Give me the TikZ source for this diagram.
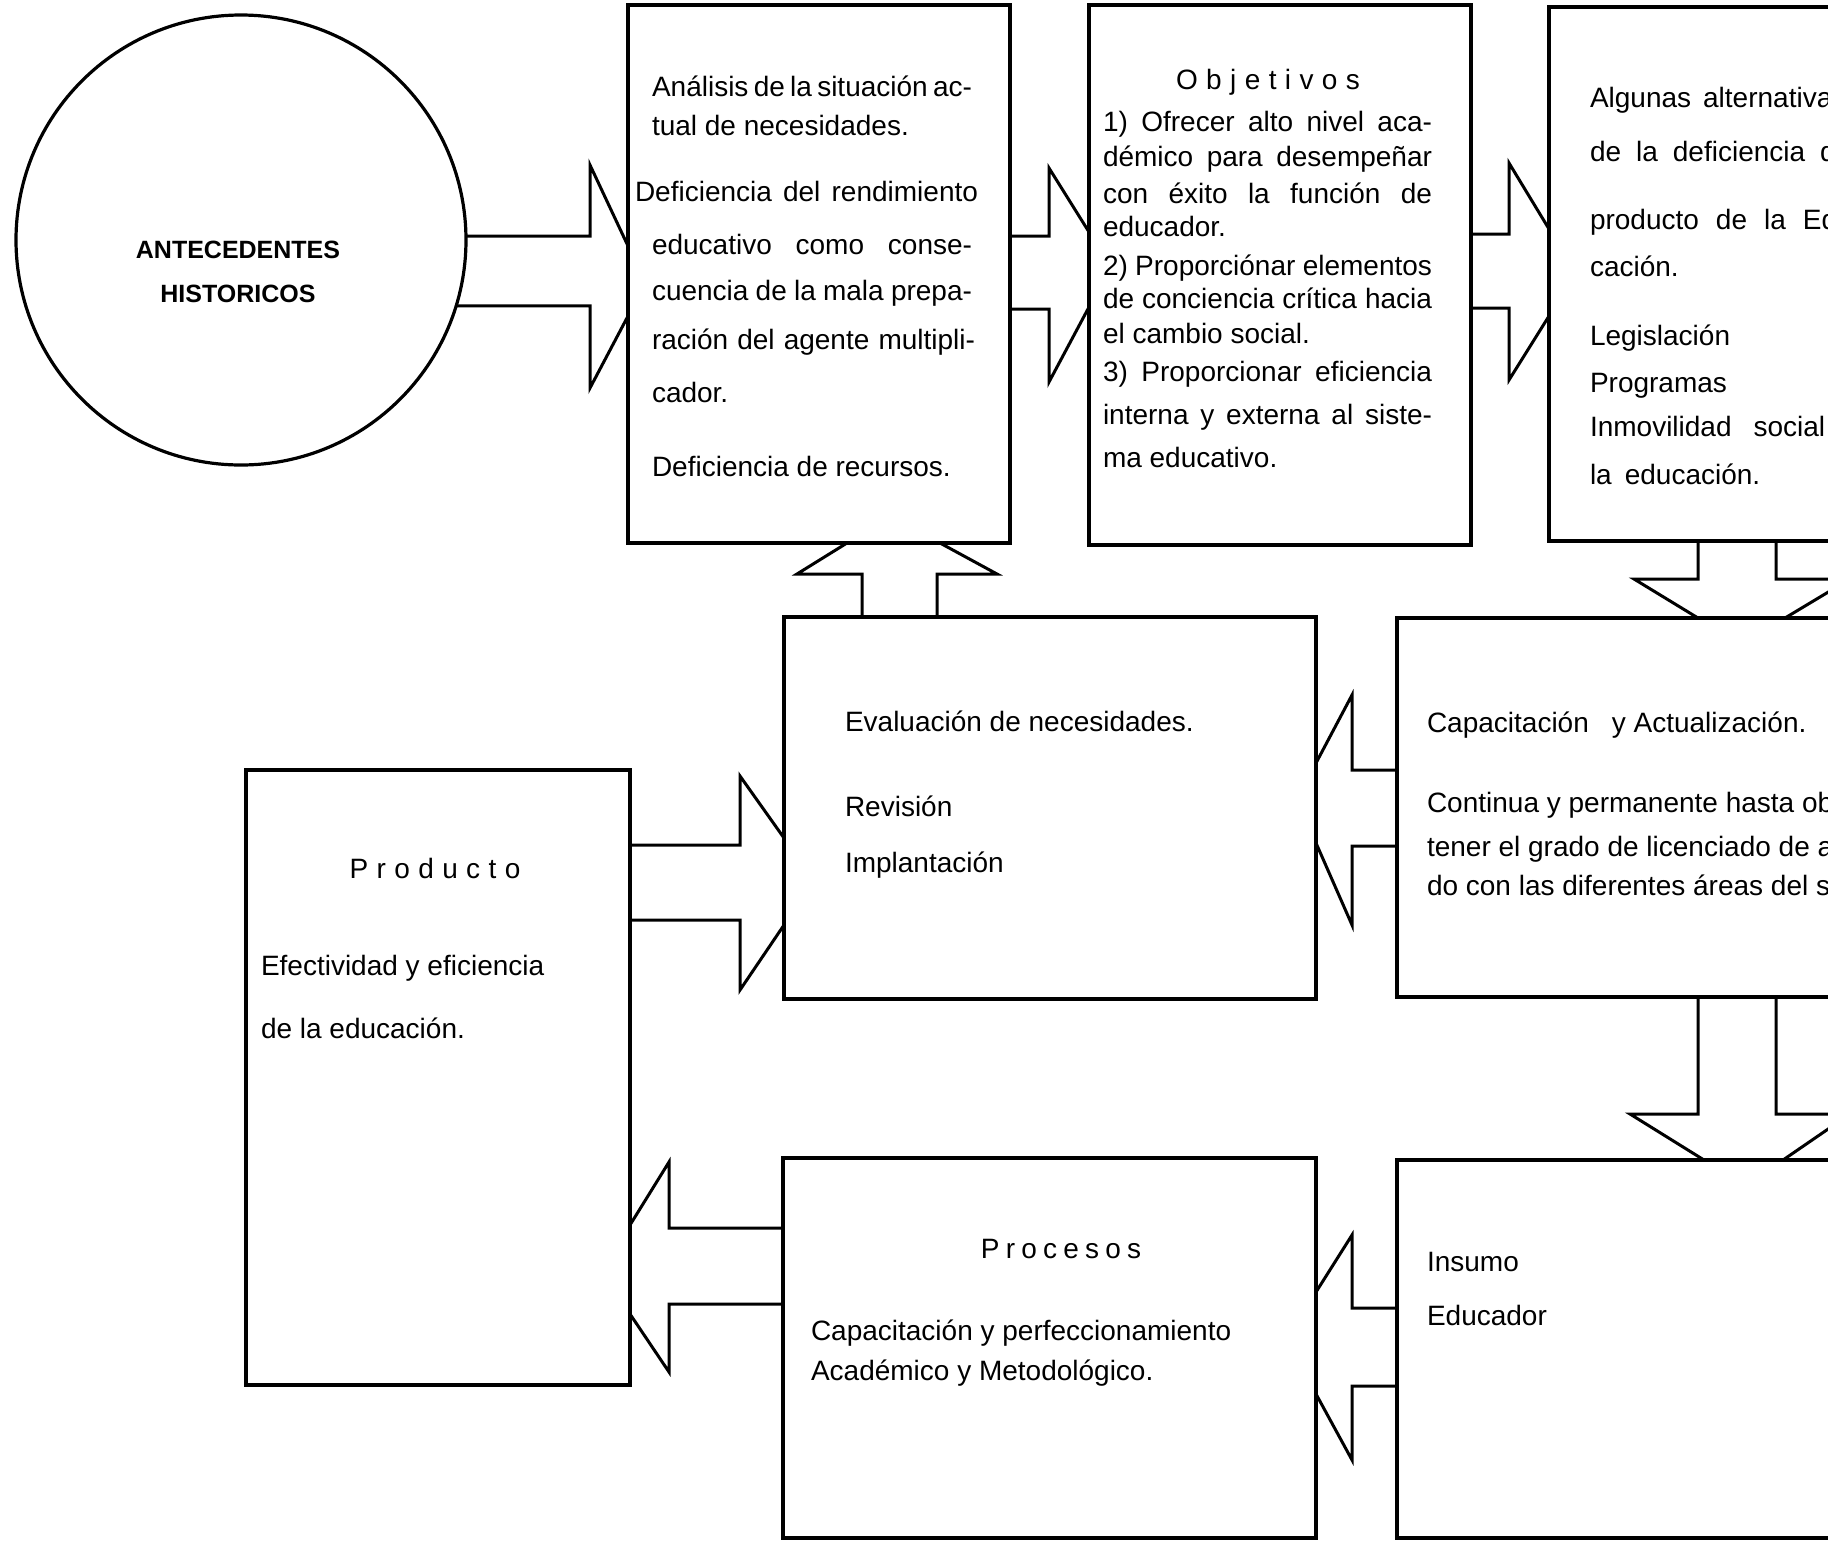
\documentclass[tikz,border=0pt]{standalone}
\usepackage{fontspec}
\setmainfont{Liberation Sans}
\newcommand{\lsa}{\kern8.4pt}
\newcommand{\lsb}{\kern6.2pt}
\begin{document}
\begin{tikzpicture}[x=1pt,y=-1pt,
  boxnode/.style={draw, line width=3.2pt, rectangle, anchor=north west, inner sep=0pt, outer sep=0pt},
  txt/.style={anchor=base west, inner sep=0pt, outer sep=0pt, font=\fontsize{28}{34}\selectfont},
  ctxt/.style={anchor=base, inner sep=0pt, outer sep=0pt, font=\fontsize{28}{34}\selectfont},
  blk/.style={draw, line width=3pt, line join=miter}]
\useasboundingbox (0,0) rectangle (1828,1551);
\clip (0,0) rectangle (1828,1551);
\fill[white] (0,0) rectangle (1828,1551);

% circle
\node[draw, circle, line width=3.2pt, minimum size=450pt, inner sep=0pt, outer sep=0pt] (c) at (241,240) {};
\node[anchor=base, inner sep=0pt, font=\fontsize{25}{30}\selectfont\bfseries] (ant) at (238,258) {ANTECEDENTES};
\node[anchor=base, inner sep=0pt, font=\fontsize{25}{30}\selectfont\bfseries] (his) at (238,302) {HISTORICOS};

% boxes
\node[boxnode, minimum width=382pt, minimum height=538pt] (b1) at (628,5) {};
\node[boxnode, minimum width=382pt, minimum height=540pt] (b2) at (1089,5) {};
\node[boxnode, minimum width=400pt, minimum height=534pt] (b3) at (1549,7) {};
\node[boxnode, minimum width=532pt, minimum height=382pt] (b4) at (784,617) {};
\node[boxnode, minimum width=500pt, minimum height=379pt] (b5) at (1397,618) {};
\node[boxnode, minimum width=384pt, minimum height=615pt] (b6) at (246,770) {};
\node[boxnode, minimum width=533pt, minimum height=380pt] (b7) at (783,1158) {};
\node[boxnode, minimum width=500pt, minimum height=378pt] (b8) at (1397,1160) {};

% block arrows
\draw[blk] (c.1) -| (590,165) -- (b1.west |- 0,246);
\draw[blk] (c.-17.9) -| (590,388) -- (b1.west |- 0,316);
\draw[blk] (b1.east |- 0,236) -| (1049,168) -- (b2.west |- 0,232);
\draw[blk] (b1.east |- 0,309) -| (1049,382) -- (b2.west |- 0,307);
\draw[blk] (b2.east |- 0,234) -| (1509,163) -- (b3.west |- 0,229);
\draw[blk] (b2.east |- 0,308) -| (1509,380) -- (b3.west |- 0,316);
\draw[blk] (b6.east |- 0,845) -| (740,776) -- (b4.west |- 0,838);
\draw[blk] (b6.east |- 0,920) -| (740,990) -- (b4.west |- 0,925);
\draw[blk] (b5.west |- 0,770) -| (1352,695) -- (b4.east |- 0,763);
\draw[blk] (b5.west |- 0,846) -| (1352,925) -- (b4.east |- 0,843);
\draw[blk] (b7.west |- 0,1228) -| (669,1162) -- (b6.east |- 0,1225);
\draw[blk] (b7.west |- 0,1304) -| (669,1372) -- (b6.east |- 0,1314);
\draw[blk] (b8.west |- 0,1308) -| (1352,1235) -- (b7.east |- 0,1292);
\draw[blk] (b8.west |- 0,1386) -| (1352,1460) -- (b7.east |- 0,1394);
\draw[blk] (b4.north -| 862,0) |- (797,574) -- (b1.south -| 847,0);
\draw[blk] (b4.north -| 937,0) |- (997,574) -- (b1.south -| 940,0);
\draw[blk] (b3.south -| 1698,0) |- (1634,579) -- (b5.north -| 1698,0);
\draw[blk] (b3.south -| 1776,0) |- (1850,579) -- (b5.north -| 1785,0);
\draw[blk] (b5.south -| 1698,0) |- (1630,1114) -- (b8.north -| 1704,0);
\draw[blk] (b5.south -| 1776,0) |- (1850,1114) -- (b8.north -| 1783,0);

% box 1 text
\node[txt] (t1a) at (652,96) {\makebox[320pt][s]{Análisis de la situación ac-}};
\node[txt] (t1b) at (652,135) {tual de necesidades.};
\node[txt] (t1c) at (635,201) {\makebox[343pt][s]{Deficiencia del rendimiento}};
\node[txt] (t1d) at (652,254) {\makebox[320pt][s]{educativo como conse-}};
\node[txt] (t1e) at (652,300) {\makebox[320pt][s]{cuencia de la mala prepa-}};
\node[txt] (t1f) at (652,349) {\makebox[323pt][s]{ración del agente multipli-}};
\node[txt] (t1g) at (652,402) {cador.};
\node[txt] (t1h) at (652,476) {Deficiencia de recursos.};

% box 2 text
\node[ctxt] (t2t) at (1268,89) {O\lsa b\lsa j\lsa e\lsa t\lsa i\lsa v\lsa o\lsa s};
\node[txt] (t2a) at (1103,131) {\makebox[329pt][s]{1) Ofrecer alto nivel aca-}};
\node[txt] (t2b) at (1103,166) {\makebox[329pt][s]{démico para desempeñar}};
\node[txt] (t2c) at (1103,203) {\makebox[329pt][s]{con éxito la función de}};
\node[txt] (t2d) at (1103,236) {educador.};
\node[txt] (t2e) at (1103,275) {\makebox[329pt][s]{2) Proporciónar elementos}};
\node[txt] (t2f) at (1103,308) {\makebox[329pt][s]{de conciencia crítica hacia}};
\node[txt] (t2g) at (1103,343) {el cambio social.};
\node[txt] (t2h) at (1103,381) {\makebox[329pt][s]{3) Proporcionar eficiencia}};
\node[txt] (t2i) at (1103,424) {\makebox[329pt][s]{interna y externa al siste-}};
\node[txt] (t2j) at (1103,467) {ma educativo.};

% box 3 text
\node[txt] (t3a) at (1590,107) {{\spaceskip=12pt Algunas alternativas}};
\node[txt] (t3b) at (1590,161) {{\spaceskip=15pt de la deficiencia d}};
\node[txt] (t3c) at (1590,229) {{\spaceskip=17pt producto de la Ed}};
\node[txt] (t3d) at (1590,276) {cación.};
\node[txt] (t3e) at (1590,345) {Legislación};
\node[txt] (t3f) at (1590,392) {Programas};
\node[txt] (t3g) at (1590,436) {{\spaceskip=22pt Inmovilidad social}};
\node[txt] (t3h) at (1590,484) {{\spaceskip=13pt la educación.}};

% box 4 text
\node[txt] (t4a) at (845,731) {Evaluación de necesidades.};
\node[txt] (t4b) at (845,816) {Revisión};
\node[txt] (t4c) at (845,872) {Implantación};

% box 5 text
\node[txt] (t5a) at (1427,732) {Capacitación\hspace{23pt}y Actualización.};
\node[txt] (t5b) at (1427,812) {Continua y permanente hasta ob};
\node[txt] (t5c) at (1427,856) {tener el grado de licenciado de ac};
\node[txt] (t5d) at (1427,895) {do con las diferentes áreas del sa};

% box 6 text
\node[ctxt] (t6t) at (435,878) {P\lsa r\lsa o\lsa d\lsa u\lsa c\lsa t\lsa o};
\node[txt] (t6a) at (261,975) {Efectividad y eficiencia};
\node[txt] (t6b) at (261,1038) {de la educación.};

% box 7 text
\node[ctxt] (t7t) at (1061,1258) {P\lsb r\lsb o\lsb c\lsb e\lsb s\lsb o\lsb s};
\node[txt] (t7a) at (811,1340) {Capacitación y perfeccionamiento};
\node[txt] (t7b) at (811,1380) {Académico y Metodológico.};

% box 8 text
\node[txt] (t8a) at (1427,1271) {Insumo};
\node[txt] (t8b) at (1427,1325) {Educador};
\end{tikzpicture}
\end{document}
